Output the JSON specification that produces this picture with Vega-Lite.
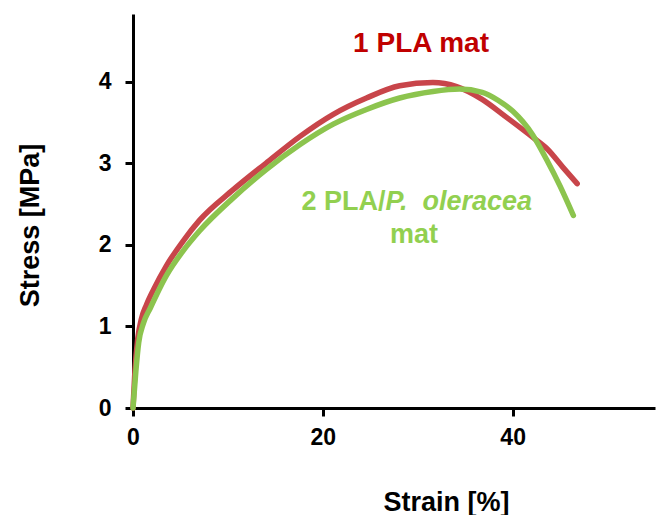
{
  "$schema": "https://vega.github.io/schema/vega-lite/v6.json",
  "autosize": "none",
  "width": 522,
  "height": 394,
  "padding": {"left": 133, "top": 14, "right": 4, "bottom": 107},
  "background": "white",
  "config": {
    "view": {"stroke": null},
    "font": "Liberation Sans",
    "axis": {
      "grid": false,
      "domainColor": "black",
      "domainWidth": 3,
      "tickColor": "black",
      "tickWidth": 3,
      "tickSize": 8,
      "labelFlush": false,
      "labelOverlap": false,
      "labelFont": "Liberation Sans",
      "labelFontWeight": "bold",
      "labelFontSize": 23,
      "labelColor": "black",
      "titleFont": "Liberation Sans",
      "titleFontWeight": "bold",
      "titleFontSize": 27,
      "titleColor": "black"
    }
  },
  "datasets": {
    "curves": [
      {"sample": "1 PLA mat", "strain": 0, "stress": 0},
      {"sample": "1 PLA mat", "strain": 0.2, "stress": 0.45},
      {"sample": "1 PLA mat", "strain": 0.5, "stress": 0.85},
      {"sample": "1 PLA mat", "strain": 0.9, "stress": 1.1},
      {"sample": "1 PLA mat", "strain": 1.4, "stress": 1.26},
      {"sample": "1 PLA mat", "strain": 2.2, "stress": 1.46},
      {"sample": "1 PLA mat", "strain": 3.5, "stress": 1.74},
      {"sample": "1 PLA mat", "strain": 5.3, "stress": 2.05},
      {"sample": "1 PLA mat", "strain": 7.0, "stress": 2.3},
      {"sample": "1 PLA mat", "strain": 10.5, "stress": 2.67},
      {"sample": "1 PLA mat", "strain": 14.0, "stress": 3.0},
      {"sample": "1 PLA mat", "strain": 17.6, "stress": 3.33},
      {"sample": "1 PLA mat", "strain": 21.1, "stress": 3.6},
      {"sample": "1 PLA mat", "strain": 24.6, "stress": 3.8},
      {"sample": "1 PLA mat", "strain": 28.1, "stress": 3.95},
      {"sample": "1 PLA mat", "strain": 31.6, "stress": 3.99},
      {"sample": "1 PLA mat", "strain": 34.1, "stress": 3.94},
      {"sample": "1 PLA mat", "strain": 36.7, "stress": 3.79},
      {"sample": "1 PLA mat", "strain": 39.4, "stress": 3.56},
      {"sample": "1 PLA mat", "strain": 42.1, "stress": 3.32},
      {"sample": "1 PLA mat", "strain": 43.6, "stress": 3.18},
      {"sample": "1 PLA mat", "strain": 45.3, "stress": 2.95},
      {"sample": "1 PLA mat", "strain": 46.8, "stress": 2.75},
      {"sample": "2 PLA/P. oleracea mat", "strain": 0, "stress": 0},
      {"sample": "2 PLA/P. oleracea mat", "strain": 0.3, "stress": 0.45},
      {"sample": "2 PLA/P. oleracea mat", "strain": 0.6, "stress": 0.8},
      {"sample": "2 PLA/P. oleracea mat", "strain": 1.1, "stress": 1.04},
      {"sample": "2 PLA/P. oleracea mat", "strain": 1.8, "stress": 1.22},
      {"sample": "2 PLA/P. oleracea mat", "strain": 3.5, "stress": 1.62},
      {"sample": "2 PLA/P. oleracea mat", "strain": 5.3, "stress": 1.93},
      {"sample": "2 PLA/P. oleracea mat", "strain": 7.0, "stress": 2.17},
      {"sample": "2 PLA/P. oleracea mat", "strain": 10.5, "stress": 2.57},
      {"sample": "2 PLA/P. oleracea mat", "strain": 14.0, "stress": 2.92},
      {"sample": "2 PLA/P. oleracea mat", "strain": 17.6, "stress": 3.23},
      {"sample": "2 PLA/P. oleracea mat", "strain": 21.1, "stress": 3.48},
      {"sample": "2 PLA/P. oleracea mat", "strain": 24.6, "stress": 3.66},
      {"sample": "2 PLA/P. oleracea mat", "strain": 28.1, "stress": 3.8},
      {"sample": "2 PLA/P. oleracea mat", "strain": 31.6, "stress": 3.88},
      {"sample": "2 PLA/P. oleracea mat", "strain": 34.4, "stress": 3.91},
      {"sample": "2 PLA/P. oleracea mat", "strain": 36.8, "stress": 3.87},
      {"sample": "2 PLA/P. oleracea mat", "strain": 38.5, "stress": 3.77},
      {"sample": "2 PLA/P. oleracea mat", "strain": 40.0, "stress": 3.64},
      {"sample": "2 PLA/P. oleracea mat", "strain": 42.1, "stress": 3.35},
      {"sample": "2 PLA/P. oleracea mat", "strain": 43.6, "stress": 3.04},
      {"sample": "2 PLA/P. oleracea mat", "strain": 45.0, "stress": 2.72},
      {"sample": "2 PLA/P. oleracea mat", "strain": 46.4, "stress": 2.36}
    ]
  },
  "layer": [
    {
      "data": {"name": "curves"},
      "mark": {"type": "line", "interpolate": "monotone", "strokeWidth": 5.5, "strokeCap": "round"},
      "encoding": {
        "x": {
          "field": "strain", "type": "quantitative",
          "scale": {"domain": [0, 55], "nice": false, "zero": false},
          "axis": {"values": [0, 20, 40], "format": "d", "title": "Strain [%]", "labelPadding": 10,
                   "titleX": 313, "titleY": 102, "titleAlign": "center", "titleBaseline": "alphabetic"}
        },
        "y": {
          "field": "stress", "type": "quantitative",
          "scale": {"domain": [0, 4.83], "nice": false, "zero": false},
          "axis": {"values": [0, 1, 2, 3, 4], "format": "d", "title": "Stress [MPa]", "labelPadding": 14,
                   "titleX": -95, "titleY": 211, "titleAngle": -90, "titleAlign": "center", "titleBaseline": "alphabetic"}
        },
        "color": {
          "field": "sample", "type": "nominal",
          "scale": {"domain": ["1 PLA mat", "2 PLA/P. oleracea mat"], "range": ["#c8454a", "#8cc44e"]},
          "legend": null
        },
        "order": {"field": "strain", "type": "quantitative"}
      }
    },
    {
      "data": {"values": [{"strain": 30.35, "stress": 4.37, "label": "1 PLA mat"}]},
      "mark": {"type": "text", "font": "Liberation Sans", "fontWeight": "bold", "fontSize": 28, "color": "#c00000", "align": "center", "baseline": "alphabetic"},
      "encoding": {
        "x": {"field": "strain", "type": "quantitative"},
        "y": {"field": "stress", "type": "quantitative"},
        "text": {"field": "label"}
      }
    },
    {
      "data": {"values": [{"strain": 26.6, "stress": 2.43, "label": "2 PLA/"}]},
      "mark": {"type": "text", "font": "Liberation Sans", "fontWeight": "bold", "fontSize": 27, "color": "#92d050", "align": "right", "baseline": "alphabetic"},
      "encoding": {
        "x": {"field": "strain", "type": "quantitative"},
        "y": {"field": "stress", "type": "quantitative"},
        "text": {"field": "label"}
      }
    },
    {
      "data": {"values": [{"strain": 26.6, "stress": 2.43, "label": "P.\u00a0\u00a0oleracea"}]},
      "mark": {"type": "text", "font": "Liberation Sans", "fontWeight": "bold", "fontStyle": "italic", "fontSize": 27, "color": "#92d050", "align": "left", "baseline": "alphabetic"},
      "encoding": {
        "x": {"field": "strain", "type": "quantitative"},
        "y": {"field": "stress", "type": "quantitative"},
        "text": {"field": "label"}
      }
    },
    {
      "data": {"values": [{"strain": 29.6, "stress": 2.02, "label": "mat"}]},
      "mark": {"type": "text", "font": "Liberation Sans", "fontWeight": "bold", "fontSize": 27, "color": "#92d050", "align": "center", "baseline": "alphabetic"},
      "encoding": {
        "x": {"field": "strain", "type": "quantitative"},
        "y": {"field": "stress", "type": "quantitative"},
        "text": {"field": "label"}
      }
    }
  ]
}
